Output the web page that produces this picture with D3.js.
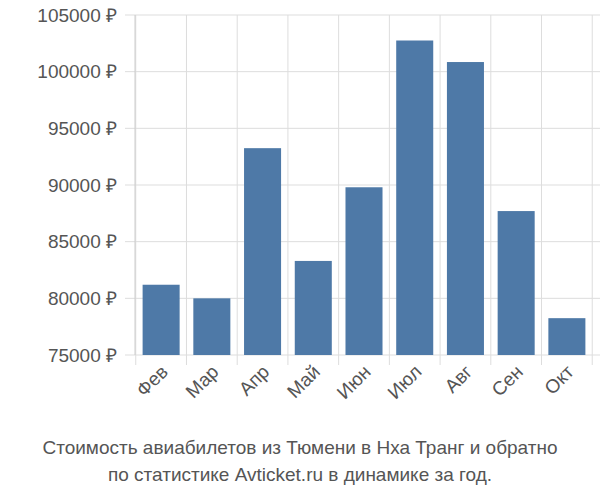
<!DOCTYPE html>
<html><head><meta charset="utf-8">
<script src="https://cdn.jsdelivr.net/npm/d3@7"></script>
<style>body{margin:0;background:#fff}svg{font-family:"Liberation Sans",Arial,sans-serif}</style>
</head><body><svg id="c" width="600" height="500"></svg>
<script>
const categories=["Фев","Мар","Апр","Май","Июн","Июл","Авг","Сен","Окт"];
const values=[81200,80000,93250,83300,89800,102750,100850,87700,78250];
const yTicks=[75000,80000,85000,90000,95000,100000,105000];
const titleLines=["Стоимость авиабилетов из Тюмени в Нха Транг и обратно","по статистике Avticket.ru в динамике за год."];

const svg=d3.select("#c");
const L=135,R=593,T=15,B=355;
const x=d3.scaleBand().domain(categories).range([L,R]).paddingInner(0.27).paddingOuter(0.15);
const y=d3.scaleLinear().domain([75000,105000]).range([B,T]);
const g=svg.append("g");
// grid
g.selectAll(".hg").data(yTicks).enter().append("line")
 .attr("x1",L-10).attr("x2",R+7).attr("y1",d=>y(d)).attr("y2",d=>y(d))
 .attr("stroke","#ddd").attr("stroke-width",1);
const step=x.step();
const vb=d3.range(categories.length+1).map(i=>x(categories[0])-x.paddingInner()*step/2+i*step);
g.selectAll(".vg").data(vb).enter().append("line")
 .attr("x1",d=>d).attr("x2",d=>d).attr("y1",T).attr("y2",B+10)
 .attr("stroke","#ddd");
g.append("line").attr("x1",L).attr("x2",L).attr("y1",T).attr("y2",B).attr("stroke","#ccc");
// bars
g.selectAll(".bar").data(values).enter().append("rect")
 .attr("x",(d,i)=>x(categories[i])).attr("width",x.bandwidth())
 .attr("y",d=>y(d)).attr("height",d=>B-y(d)).attr("fill","#4e79a7");
// y labels
g.selectAll(".yl").data(yTicks).enter().append("text")
 .attr("x",L-18).attr("y",d=>y(d)).attr("dy","0.35em").attr("text-anchor","end")
 .attr("font-size",19).attr("fill","#555").text(d=>d+" ₽");
// x labels
g.selectAll(".xl").data(categories).enter().append("text")
 .attr("transform",d=>`translate(${x(d)+x.bandwidth()/2+8},${B+18}) rotate(-45)`)
 .attr("text-anchor","end").attr("font-size",19).attr("fill","#555").text(d=>d);
// title
svg.selectAll(".t").data(titleLines).enter().append("text")
 .attr("x",300).attr("y",(d,i)=>454+i*27).attr("text-anchor","middle")
 .attr("font-size",19).attr("fill","#555").text(d=>d);
</script></body></html>
